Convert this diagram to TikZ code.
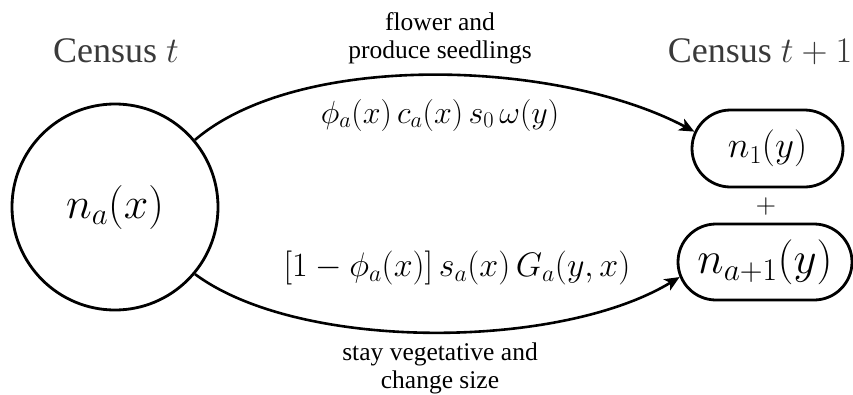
\documentclass[tikz,border=0pt]{standalone}
\usepackage{fix-cm}
\usepackage{fontspec}
\setmainfont{Liberation Serif}
\usetikzlibrary{shapes.misc,arrows.meta}
\definecolor{censusgray}{HTML}{3A3A3A}
\tikzset{
  conn/.style={line width=2.6pt,-{Stealth[length=15pt,width=13pt,inset=4pt]}},
  pop/.style={draw,line width=2.8pt,circle,minimum size=206pt,inner sep=0pt},
  pill/.style={draw,line width=2.8pt,rounded rectangle,inner sep=0pt},
  census/.style={text=censusgray,font=\fontsize{36}{40}\selectfont,anchor=base},
  lbl/.style={font=\fontsize{25.5}{28}\selectfont,align=center},
  frm/.style={font=\fontsize{32}{36}\selectfont}
}
\begin{document}
\begin{tikzpicture}[x=1pt,y=-1pt]
\useasboundingbox (0,0) rectangle (853,394);
\node[census] (ct) at (116,62) {Census $t$};
\node[census] (ct1) at (760,62) {Census $t+1$};
\node[pop] (na) at (115,207) {\fontsize{44}{48}\selectfont$n_a(x)$};
\node[pill,minimum width=151pt,minimum height=77pt] (n1) at (767.5,148.5) {\fontsize{37}{40}\selectfont$n_1(y)$};
\node[pill,minimum width=174pt,minimum height=76pt] (na1) at (765,262) {\fontsize{45}{48}\selectfont$n_{a+1}(y)$};
\node[font=\fontsize{28}{30}\selectfont] (plus) at (766,206) {$+$};
\draw[conn] (na.40) .. controls (300,50) and (560,60) .. (n1.167);
\draw[conn] (na.-40) .. controls (300,352) and (560,350) .. (na1.190);
\node[lbl] (top) at (440,38) {flower and\\produce seedlings};
\node[frm] (f1) at (440,115) {$\phi_a(x)\,c_a(x)\,s_0\,\omega(y)$};
\node[frm,font=\fontsize{34}{38}\selectfont] (f2) at (457,268) {$[1-\phi_a(x)]\,s_a(x)\,G_a(y,x)$};
\node[lbl] (bot) at (440,368) {stay vegetative and\\change size};
\end{tikzpicture}
\end{document}
